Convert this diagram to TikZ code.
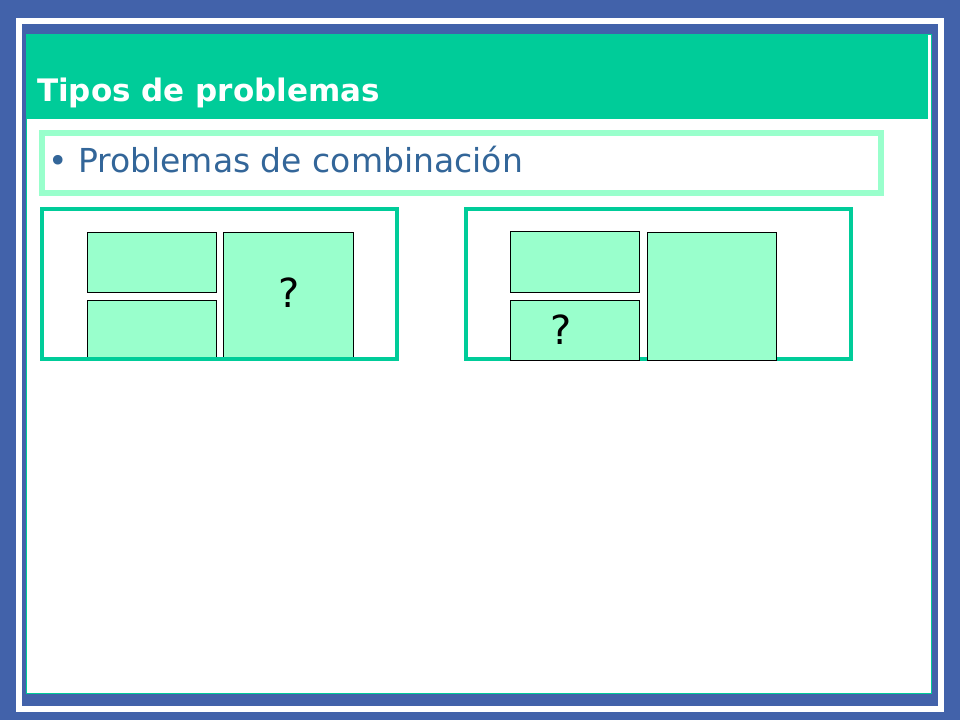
\documentclass[tikz,border=0pt]{standalone}
\usepackage{fontspec}
\setmainfont{DejaVu Sans}
\definecolor{SlideBlue}{HTML}{4262AA}
\definecolor{Teal}{HTML}{00CC99}
\definecolor{Mint}{HTML}{99FFCC}
\definecolor{TextBlue}{HTML}{336699}

\begin{document}
\begin{tikzpicture}[x=1pt, y=-1pt,
        frame/.style={draw=Teal, line width=4pt, fill=none, inner sep=0pt},
        part/.style={draw=black, line width=0.9pt, fill=Mint, inner sep=0pt},
        askmark/.style={font=\fontsize{40}{40}\selectfont, text=black}]
        \useasboundingbox (0, 0) rectangle (960, 720);
        \fill[SlideBlue] (0, 0) rectangle (960, 720);
        \draw[white, line width=6pt] (19, 20.5) rectangle (941, 709);
        \draw[Teal, fill=white, line width=0.8pt] (26, 34) rectangle (931, 693);
        \fill[Teal] (26, 34) rectangle (928, 119);

        \node[anchor=base west, text=white, font=\bfseries\fontsize{31}{31}\selectfont, inner sep=0pt] (Title) at (37, 101) {Tipos de problemas};
        \node[draw=Mint, line width=6pt, minimum width=839pt, minimum height=60pt, inner sep=0pt] (SubFrame) at (461.5, 163) {};
        \node[anchor=base west, text=TextBlue, font=\fontsize{33}{33}\selectfont, inner sep=0pt] (SubTitle) at (48, 172) {• Problemas de combinación};

        \node[part, minimum width=129pt, minimum height=60pt] (LeftTop) at (151.5, 262) {};
        \node[part, minimum width=129pt, minimum height=60pt] (LeftBottom) at (151.5, 330) {};
        \node[part, minimum width=130pt, minimum height=128pt] (LeftWhole) at (288, 296) {};
        \node[askmark] (LeftAsk) at (289, 293) {?};
        \node[frame, minimum width=355pt, minimum height=150pt] (LeftFrame) at (219.5, 284) {};

        \node[frame, minimum width=385pt, minimum height=150pt] (RightFrame) at (658.5, 284) {};
        \node[part, minimum width=129pt, minimum height=61pt] (RightTop) at (574.5, 261.5) {};
        \node[part, minimum width=129pt, minimum height=60pt] (RightBottom) at (574.5, 330) {};
        \node[part, minimum width=129pt, minimum height=128pt] (RightWhole) at (711.5, 296) {};
        \node[askmark] (RightAsk) at (561, 330) {?};
    \end{tikzpicture}
\end{document}
